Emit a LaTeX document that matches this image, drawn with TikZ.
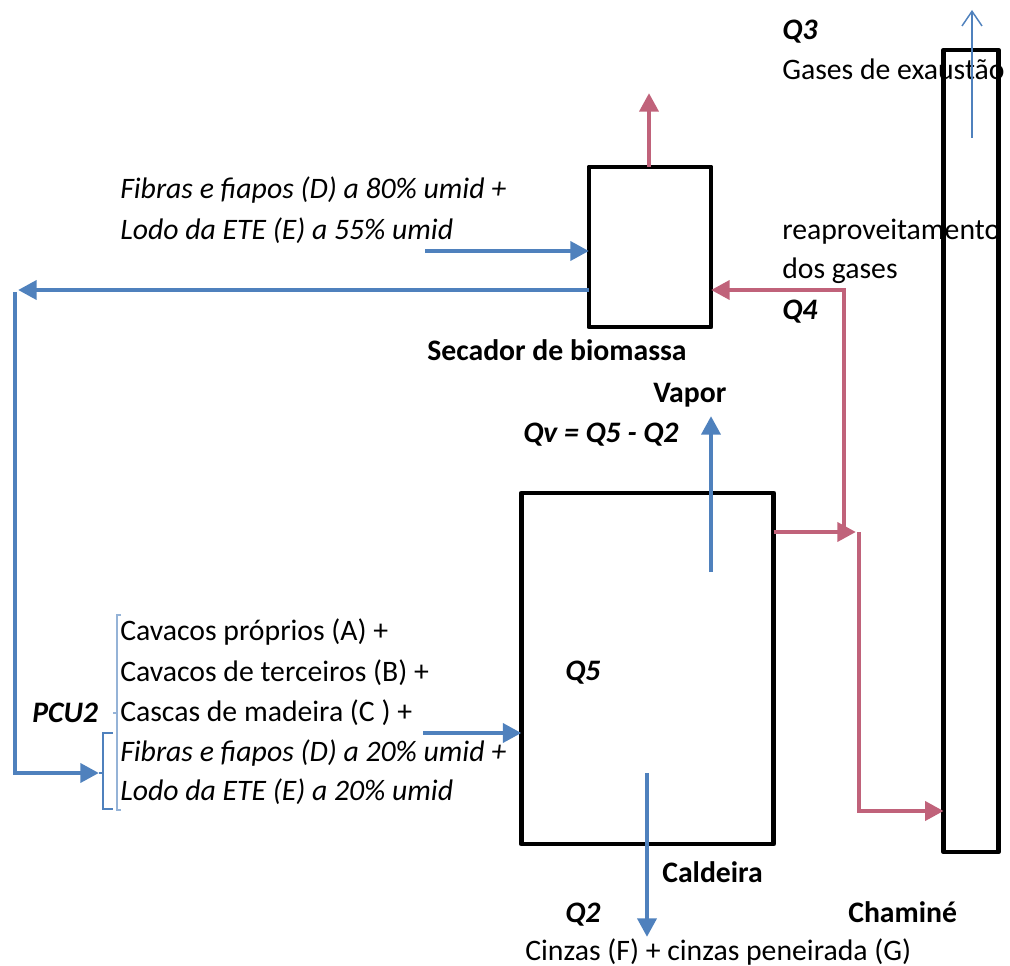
\documentclass[tikz,border=0pt]{standalone}
\usepackage{fontspec}
\setmainfont{Carlito}
\usetikzlibrary{arrows.meta}
\definecolor{flowblue}{RGB}{79,129,189}
\definecolor{flowred}{RGB}{192,98,122}
\definecolor{lightbr}{RGB}{149,179,215}
\begin{document}
\begin{tikzpicture}[x=0.75pt,y=-0.75pt,
  box/.style={draw=black, line width=3.7pt, line join=round, inner sep=0pt, outer sep=0pt},
  bline/.style={draw=flowblue, line width=3.6pt},
  barrow/.style={bline, -{Triangle[length=14pt,width=14pt]}},
  rline/.style={draw=flowred, line width=3.6pt},
  rarrow/.style={rline, -{Triangle[length=14pt,width=14pt]}},
  thinarrow/.style={draw=flowblue, line width=1.1pt, -{Straight Barb[length=11pt,width=15pt]}},
  txt/.style={inner sep=0pt, anchor=base west, font=\fontsize{22.3}{26}\selectfont},
  txti/.style={txt, font=\fontsize{22.3}{26}\selectfont\itshape},
  txtb/.style={txt, font=\fontsize{22.3}{26}\selectfont\bfseries},
  txtbi/.style={txt, font=\fontsize{22.3}{26}\selectfont\bfseries\itshape},
  brk/.style={line width=1.1pt}
]
\useasboundingbox (0,0) rectangle (1010,966);

% ---- texts ----
\node[txtbi] (q3) at (782,40) {Q3};
\node[txt] (gases) at (782,80) {Gases de exaustão};
\node[txti] (fib80) at (120,199) {Fibras e fiapos (D) a 80\% umid +};
\node[txti] (lod55) at (120,240) {Lodo da ETE (E) a 55\% umid};
\node[txt] (reap) at (782,240) {reaproveitamento};
\node[txt] (dosg) at (782,279) {dos gases};
\node[txtbi] (q4) at (782,320) {Q4};
\node[txtb] (secl) at (427,360) {Secador de biomassa};
\node[txtb] (vap) at (653,402) {Vapor};
\node[txtbi] (qv) at (523,442) {Qv = Q5 - Q2};
\node[txtbi] (q5) at (565,680) {Q5};
\node[txtbi] (pcu) at (32,722) {PCU2};
\node[txt] (la) at (120,640) {Cavacos próprios (A) +};
\node[txt] (lb) at (120,681) {Cavacos de terceiros (B) +};
\node[txt] (lc) at (120,721) {Cascas de madeira (C ) +};
\node[txti] (ld) at (120,761) {Fibras e fiapos (D) a 20\% umid +};
\node[txti] (le) at (120,800) {Lodo da ETE (E) a 20\% umid};
\node[txtb] (call) at (662,882) {Caldeira};
\node[txtbi] (q2) at (565,922) {Q2};
\node[txtb] (chl) at (848,922) {Chaminé};
\node[txt] (cinz) at (525,960) {Cinzas (F) + cinzas peneirada (G)};

% ---- equipment ----
\node[box, minimum width=91.5pt, minimum height=120pt] (sec) at (650,247) {};
\node[box, minimum width=189pt, minimum height=263.25pt] (cal) at (647.5,668.5) {};
\node[box, minimum width=40.9pt, minimum height=601.5pt] (chim) at (971,451) {};

% ---- coordinates ----
\coordinate (in1) at (425,251);
\coordinate (ret) at (18,290);
\coordinate (rtop) at (15,292);
\coordinate (rcorner) at (15,773);
\coordinate (brkt) at (99,773);
\coordinate (in2) at (423,733);
\coordinate (gasout) at (649,93);
\coordinate (q4c) at (844,290);
\coordinate (q4b) at (844,530);
\coordinate (cj) at (856,532);
\coordinate (cj2) at (859,532);
\coordinate (cj3) at (859,811);
\coordinate (vap0) at (711,572);
\coordinate (vap1) at (711,416);
\coordinate (ash0) at (647,773);
\coordinate (ash1) at (647,937);
\coordinate (ex0) at (972,138);
\coordinate (ex1) at (972,10);

% ---- brackets ----
\draw[brk, lightbr] (121,615) -- (117,615) -- (117,810) -- (121,810);
\draw[brk, lightbr] (117,713) -- (113,713);
\draw[brk, flowblue] (113,733) -- (103,733) -- (103,809) -- (113,809);
\draw[brk, flowblue] (103,773) -- (99,773);

% ---- blue flows ----
\draw[barrow] (in1) -- (in1 -| sec.west);
\draw[barrow] (ret -| sec.west) -- (ret);
\draw[bline, -{Triangle[length=14pt,width=14pt]}] (rtop) -- (rcorner) -- (brkt);
\draw[barrow] (in2) -- (in2 -| cal.west);
\draw[barrow] (vap0) -- (vap1);
\draw[barrow] (ash0) -- (ash1);
\draw[thinarrow] (ex0) -- (ex1);

% ---- red flows ----
\draw[rarrow] (gasout |- sec.north) -- (gasout);
\draw[rarrow] (q4b) -- (q4c) -- (q4c -| sec.east);
\draw[rarrow] (cj -| cal.east) -- (cj);
\draw[rarrow] (cj2) -- (cj3) -- (cj3 -| chim.west);
\end{tikzpicture}
\end{document}
